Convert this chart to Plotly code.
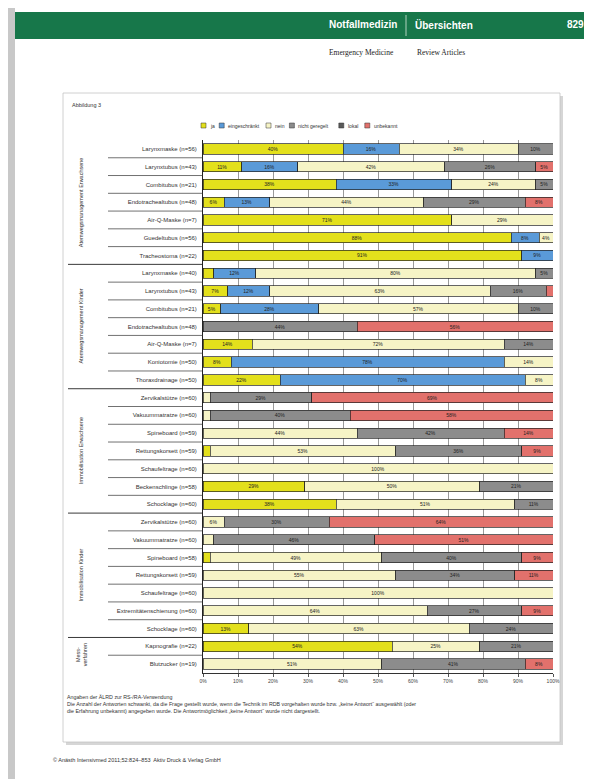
import plotly.graph_objects as go

# ---------------- data ----------------
row_labels = [
    "Larynxmaske (n=56)", "Larynxtubus (n=43)", "Combitubus (n=21)", "Endotrachealtubus (n=48)",
    "Air-Q-Maske (n=7)", "Guedeltubus (n=56)", "Tracheostoma (n=22)",
    "Larynxmaske (n=40)", "Larynxtubus (n=43)", "Combitubus (n=21)", "Endotrachealtubus (n=48)",
    "Air-Q-Maske (n=7)", "Koniotomie (n=50)", "Thoraxdrainage (n=50)",
    "Zervikalstütze (n=60)", "Vakuummatratze (n=60)", "Spineboard (n=59)", "Rettungskorsett (n=59)",
    "Schaufeltrage (n=60)", "Beckenschlinge (n=58)", "Schocklage (n=60)",
    "Zervikalstütze (n=60)", "Vakuummatratze (n=60)", "Spineboard (n=58)", "Rettungskorsett (n=59)",
    "Schaufeltrage (n=60)", "Extremitätenschienung (n=60)", "Schocklage (n=60)",
    "Kapnografie (n=22)", "Blutzucker (n=19)",
]
ja = [40, 11, 38, 6, 71, 88, 91,
      3, 7, 5, 0, 14, 8, 22,
      0, 0, 0, 2, 0, 29, 38,
      0, 0, 2, 0, 0, 0, 13,
      54, 0]
eingeschraenkt = [16, 16, 33, 13, 0, 8, 9,
                  12, 12, 28, 0, 0, 78, 70,
                  0, 0, 0, 0, 0, 0, 0,
                  0, 0, 0, 0, 0, 0, 0,
                  0, 0]
nein = [34, 42, 24, 44, 29, 4, 0,
        80, 63, 57, 0, 72, 14, 8,
        2, 2, 44, 53, 100, 50, 51,
        6, 3, 49, 55, 100, 64, 63,
        25, 51]
nicht_geregelt = [10, 26, 5, 29, 0, 0, 0,
                  5, 16, 10, 44, 14, 0, 0,
                  29, 40, 42, 36, 0, 21, 11,
                  30, 46, 40, 34, 0, 27, 24,
                  21, 41]
lokal = [0] * 30
unbekannt = [0, 5, 0, 8, 0, 0, 0,
             0, 2, 0, 56, 0, 0, 0,
             69, 58, 14, 9, 0, 0, 0,
             64, 51, 9, 11, 0, 9, 0,
             0, 8]
series_names = ["ja", "eingeschränkt", "nein", "nicht geregelt", "lokal", "unbekannt"]
series_values = [ja, eingeschraenkt, nein, nicht_geregelt, lokal, unbekannt]
series_colors = ["#e3e01c", "#5a9ad8", "#f6f4c6", "#8c8c8c", "#5a5a5a", "#e2716c"]

group_labels = ["Atemwegsmanagement Erwachsene", "Atemwegsmanagement Kinder",
                "Immobilisation Erwachsene", "Immobilisation Kinder", "Mess-<br>verfahren"]
group_sizes = [7, 7, 7, 7, 2]
tick_vals = [0, 10, 20, 30, 40, 50, 60, 70, 80, 90, 100]
tick_text = [f"{v}%" for v in tick_vals]

# ---------------- geometry helpers (pixel -> paper) ----------------
W, H = 592, 779
L, R, T, B = 195, 545, 132, 665
def px(x):
    return (x - L) / (R - L)
def py(y):
    return (B - y) / (B - T)

FONT = "Liberation Sans"
fig = go.Figure()
ys = list(range(len(row_labels)))
for name, vals, col in zip(series_names, series_values, series_colors):
    xv = [v if v > 0 else None for v in vals]
    fig.add_trace(go.Bar(
        y=ys, x=xv, name=name, orientation="h", showlegend=False,
        marker=dict(color=col, line=dict(color="#222", width=0.7)),
        text=[f"{v}%" if v >= 4 else "" for v in vals],
        textposition="inside", insidetextanchor="middle", constraintext="none",
        textfont=dict(size=5, color="#222", family=FONT),
    ))

shapes = []
annotations = []

# header bar
shapes.append(dict(type="rect", xref="paper", yref="paper", x0=px(6), x1=px(588), y0=py(31), y1=py(4),
                   fillcolor="#17774a", line=dict(width=0), layer="below"))
shapes.append(dict(type="rect", xref="paper", yref="paper", x0=px(0), x1=px(7), y0=py(779), y1=py(0),
                   fillcolor="#c8c8c8", line=dict(width=0), layer="below"))
shapes.append(dict(type="line", xref="paper", yref="paper", x0=px(398), x1=px(398), y0=py(28), y1=py(7),
                   line=dict(color="#d8e8dc", width=0.8)))
annotations += [
    dict(text="<b>Notfallmedizin</b>", x=px(391), y=py(17), xanchor="right", yanchor="middle",
         font=dict(size=10, color="white", family=FONT)),
    dict(text="<b>Übersichten</b>", x=px(405), y=py(17), xanchor="left", yanchor="middle",
         font=dict(size=10, color="white", family=FONT)),
    dict(text="<b>829</b>", x=px(578), y=py(17), xanchor="right", yanchor="middle",
         font=dict(size=10, color="white", family=FONT)),
    dict(text="Emergency Medicine", x=px(388), y=py(44), xanchor="right", yanchor="middle",
         font=dict(size=7.5, color="#222", family="Liberation Serif")),
    dict(text="Review Articles", x=px(407), y=py(44), xanchor="left", yanchor="middle",
         font=dict(size=7.5, color="#222", family="Liberation Serif")),
]

# figure frame
shapes.append(dict(type="rect", xref="paper", yref="paper", x0=px(58), x1=px(555), y0=py(737), y1=py(88),
                   fillcolor="#d6d6d6", line=dict(width=0), layer="below"))
shapes.append(dict(type="rect", xref="paper", yref="paper", x0=px(55), x1=px(552), y0=py(734), y1=py(85),
                   fillcolor="white", line=dict(color="#c4c4c4", width=0.8), layer="below"))
annotations.append(dict(text="Abbildung 3", x=px(62), y=py(97), xanchor="left", yanchor="middle",
                        font=dict(size=5.5, color="#333", family=FONT)))

# compact legend built from the series names/colours
lx = 193
for name, col in zip(series_names, series_colors):
    shapes.append(dict(type="rect", xref="paper", yref="paper", x0=px(lx), x1=px(lx + 5),
                       y0=py(120), y1=py(115), fillcolor=col, line=dict(color="#333", width=0.5)))
    annotations.append(dict(text=name, x=px(lx + 7), y=py(117.5), xanchor="left", yanchor="middle",
                            font=dict(size=5, color="#333", family=FONT)))
    lx += 7 + len(name) * 2.6 + 6

# row separators and group separators in the label area
start = 0
for gi, (gl, gs) in enumerate(zip(group_labels, group_sizes)):
    for k in range(start, start + gs - 1):
        shapes.append(dict(type="line", xref="paper", yref="y", x0=px(100), x1=px(195),
                           y0=k + 0.5, y1=k + 0.5, line=dict(color="#333", width=0.7)))
    if gi < len(group_sizes) - 1:
        b = start + gs - 0.5
        shapes.append(dict(type="line", xref="paper", yref="y", x0=px(60), x1=px(195),
                           y0=b, y1=b, line=dict(color="#222", width=0.9)))
    annotations.append(dict(text=gl, xref="paper", yref="y", x=px(73), y=start + (gs - 1) / 2,
                            textangle=-90, xanchor="center", yanchor="middle", showarrow=False,
                            font=dict(size=5.5, color="#333", family=FONT)))
    start += gs

# caption and footer
caption = ("Angaben der ÄLRD zur RS-/RA-Verwendung<br>"
           "Die Anzahl der Antworten schwankt, da die Frage gestellt wurde, wenn die Technik im RDB vorgehalten wurde bzw. „keine Antwort“ ausgewählt (oder<br>"
           "die Erfahrung unbekannt) angegeben wurde. Die Antwortmöglichkeit „keine Antwort“ wurde nicht dargestellt.")
annotations.append(dict(text=caption, x=px(57), y=py(684), xanchor="left", yanchor="top", align="left",
                        font=dict(size=5.3, color="#333", family=FONT)))
annotations.append(dict(text="© Anästh Intensivmed 2011;52:824–853  Aktiv Druck & Verlag GmbH",
                        x=px(43), y=py(752), xanchor="left", yanchor="middle",
                        font=dict(size=5.5, color="#333", family=FONT)))

for a in annotations:
    a.setdefault("xref", "paper")
    a.setdefault("yref", "paper")
    a.setdefault("showarrow", False)

fig.update_layout(
    width=W, height=H,
    margin=dict(l=L, r=W - R, t=T, b=H - B, pad=0),
    barmode="stack", bargap=0.42,
    paper_bgcolor="white", plot_bgcolor="#e9e9ec",
    font=dict(family=FONT, size=6, color="#333"),
    showlegend=False,
    shapes=shapes, annotations=annotations,
    xaxis=dict(range=[0, 100], tickvals=tick_vals, ticktext=tick_text, showgrid=True,
               gridcolor="#9a9a9a", gridwidth=0.7, zeroline=False, ticks="outside", ticklen=3,
               tickcolor="#555", tickfont=dict(size=5, color="#444"), showline=True,
               linecolor="#333", linewidth=0.8, fixedrange=True),
    yaxis=dict(tickvals=ys, ticktext=row_labels, autorange="reversed",
               tickfont=dict(size=6, color="#333"), showgrid=False, showline=True,
               linecolor="#222", linewidth=0.9, ticks="", ticklabelstandoff=4),
)

fig.write_html("out.html")
